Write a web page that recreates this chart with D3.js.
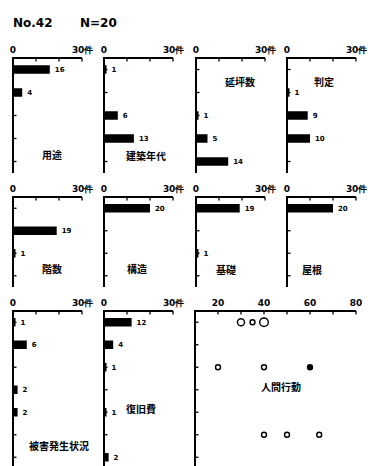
<!DOCTYPE html>
<html>
<head>
<meta charset="utf-8">
<script src="https://cdn.jsdelivr.net/npm/d3@7"></script>
<style>
  body { margin: 0; background: #fff; }
  svg text { fill: #000; }
  .title { font: bold 12px "DejaVu Sans", sans-serif; }
  .tick-label { font: bold 9px "DejaVu Sans", sans-serif; }
  .value { font: bold 7px "DejaVu Sans", sans-serif; }
  .name { font: bold 10px "Noto Sans CJK JP", sans-serif; }
</style>
</head>
<body>
<div id="chart"></div>
<script>
// data
var panelNames = ["用途", "建築年代", "延坪数", "判定", "階数", "構造", "基礎", "屋根", "被害発生状況", "復旧費"];
var panelValues = [
  [16, 4, 0, 0, 0],
  [1, 0, 6, 13, 0],
  [0, 0, 1, 5, 14],
  [0, 1, 9, 10, 0],
  [0, 19, 1, 0],
  [20, 0, 0, 0],
  [19, 0, 1, 0],
  [20, 0, 0, 0],
  [1, 6, 0, 2, 2, 0, 0],
  [12, 4, 1, 0, 1, 0, 2]
];
var axisTicks = [0, 10, 20, 30];

var behaviorName = "人間行動";
var behaviorRow = [0, 0, 0, 2, 2, 2, 5, 5, 5];
var behaviorValue = [30, 35, 40, 20, 40, 60, 40, 50, 64];
var behaviorCount = [2, 1, 3, 1, 1, 1, 1, 1, 1];
var behaviorFilled = [0, 0, 0, 0, 0, 1, 0, 0, 0];
var behaviorTicks = [20, 30, 40, 50, 60, 70, 80];
var behaviorTickLabels = [20, 40, 60, 80];

// layout
var colX = [13, 104, 196, 287],
    panelWidth = 69,
    rowTop = [58, 197, 311],
    rowBand = [23, 22.5, 22.5],
    barHeight = 8.5;

// [row, col, label x, label y]
var panelLayout = [
  [0, 0, 52, 159], [0, 1, 146, 160], [0, 2, 240, 86], [0, 3, 324, 86],
  [1, 0, 52, 273], [1, 1, 137, 273], [1, 2, 226, 274], [1, 3, 312, 274],
  [2, 0, 59, 450], [2, 1, 141, 413]
];

var svg = d3.select("#chart").append("svg")
    .attr("width", 368)
    .attr("height", 466);

svg.append("text").attr("class", "title").attr("x", 13).attr("y", 27).text("No.42");
svg.append("text").attr("class", "title").attr("x", 80).attr("y", 27).text("N=20");

function drawFrame(g, x, y, ticks, axisBottom) {
  var x0 = x.range()[0], x1 = x.range()[1], top = y.range()[0];

  g.append("line")
      .attr("x1", x0).attr("x2", x1)
      .attr("y1", top).attr("y2", top)
      .attr("stroke", "#000").attr("stroke-width", 1.8);

  g.append("line")
      .attr("x1", x0).attr("x2", x0)
      .attr("y1", top - 0.9).attr("y2", axisBottom)
      .attr("stroke", "#000").attr("stroke-width", 2);

  g.selectAll(".xtick")
      .data(ticks)
      .enter().append("line")
      .attr("x1", function(d) { return x(d); })
      .attr("x2", function(d) { return x(d); })
      .attr("y1", top)
      .attr("y2", top + 3.5)
      .attr("stroke", "#000").attr("stroke-width", 1.3);

  g.selectAll(".ytick")
      .data(y.domain())
      .enter().append("line")
      .attr("x1", x0)
      .attr("x2", x0 + 3.5)
      .attr("y1", function(d) { return y(d) + y.bandwidth() / 2; })
      .attr("y2", function(d) { return y(d) + y.bandwidth() / 2; })
      .attr("stroke", "#000").attr("stroke-width", 1.3);
}

panelNames.forEach(function(name, p) {
  var lay = panelLayout[p],
      row = lay[0],
      values = panelValues[p],
      left = colX[lay[1]],
      top = rowTop[row];

  var x = d3.scaleLinear()
      .domain([0, 30])
      .range([left, left + panelWidth]);

  var y = d3.scaleBand()
      .domain(d3.range(values.length))
      .range([top, top + values.length * rowBand[row]]);

  var axisBottom = row == 2 ? 466 : y.range()[1];

  var g = svg.append("g");
  drawFrame(g, x, y, axisTicks, axisBottom);

  g.append("text").attr("class", "tick-label")
      .attr("x", x(0)).attr("y", top - 5)
      .attr("text-anchor", "middle").text("0");
  g.append("text").attr("class", "tick-label")
      .attr("x", x(30) - 10).attr("y", top - 5)
      .attr("letter-spacing", -0.3)
      .text("30件");

  var bars = g.selectAll(".bar")
      .data(values.map(function(v, i) { return {i: i, v: v}; }).filter(function(d) { return d.v > 0; }))
      .enter().append("g");

  bars.append("rect")
      .attr("x", x(0))
      .attr("y", function(d) { return y(d.i) + (y.bandwidth() - barHeight) / 2; })
      .attr("width", function(d) { return Math.max(x(d.v) - x(0), 2.5); })
      .attr("height", barHeight)
      .attr("fill", "#000");

  bars.append("text").attr("class", "value")
      .attr("x", function(d) { return Math.max(x(d.v), x(0) + 2.5) + 5; })
      .attr("y", function(d) { return y(d.i) + y.bandwidth() / 2; })
      .attr("dy", "0.35em")
      .text(function(d) { return d.v; });

  g.append("text").attr("class", "name")
      .attr("x", lay[2]).attr("y", lay[3])
      .attr("text-anchor", "middle")
      .text(name);
});

// scatter panel: 人間行動
var sx = d3.scaleLinear()
    .domain([10, 80])
    .range([195, 356]);

var sy = d3.scaleBand()
    .domain(d3.range(7))
    .range([rowTop[2], rowTop[2] + 7 * rowBand[2]]);

var r = d3.scaleSqrt().domain([0, 3]).range([0, 4.3]);

var sg = svg.append("g");
drawFrame(sg, sx, sy, behaviorTicks, 466);

sg.selectAll(".slabel")
    .data(behaviorTickLabels)
    .enter().append("text")
    .attr("class", "tick-label")
    .attr("x", function(d) { return sx(d); })
    .attr("y", rowTop[2] - 5)
    .attr("text-anchor", "middle")
    .text(function(d) { return d; });

sg.selectAll("circle")
    .data(behaviorValue)
    .enter().append("circle")
    .attr("cx", function(d) { return sx(d); })
    .attr("cy", function(d, i) { return sy(behaviorRow[i]) + sy.bandwidth() / 2; })
    .attr("r", function(d, i) { return r(behaviorCount[i]); })
    .attr("fill", function(d, i) { return behaviorFilled[i] ? "#000" : "#fff"; })
    .attr("stroke", "#000")
    .attr("stroke-width", 1.4);

sg.append("text").attr("class", "name")
    .attr("x", 281).attr("y", 391)
    .attr("text-anchor", "middle")
    .text(behaviorName);
</script>
</body>
</html>
